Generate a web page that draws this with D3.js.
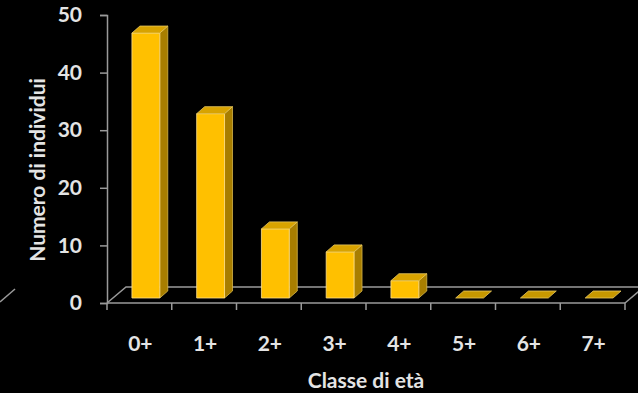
<!DOCTYPE html>
<html>
<head>
    <script src="https://cdnjs.cloudflare.com/ajax/libs/d3/7.8.5/d3.min.js"></script>
    <style>
        body { margin: 0; background: black; }
        svg text { fill: #e4e4e4; font-family: Lato, sans-serif; font-weight: bold; }
    </style>
</head>
<body>
<script>
    var categories = ["0+", "1+", "2+", "3+", "4+", "5+", "6+", "7+"];
    var values = [46, 32, 12, 8, 3, 0, 0, 0];
    var yTicks = [0, 10, 20, 30, 40, 50];

    var width = 638, height = 393;
    var lineColor = "#9a9a9a";
    // floor depth and bar depth (3D offsets)
    var floorDx = 19, floorDy = -16;
    var barShiftY = -5, barDx = 8, barDy = -7;

    var svg = d3.select("body").append("svg")
        .attr("width", width).attr("height", height);

    var x = d3.scaleBand().domain(categories).range([107, 625]);
    var y = d3.scaleLinear().domain([0, 50]).range([303, 15]);

    // floor edges
    var y0 = y(0);
    svg.append("path")
        .attr("d", "M" + x.range()[0] + "," + y0 + "L" + (x.range()[0] + floorDx) + "," + (y0 + floorDy) +
            "L" + width + "," + (y0 + floorDy))
        .attr("fill", "none").attr("stroke", lineColor).attr("stroke-width", 1.5);
    svg.append("path")
        .attr("d", "M" + x.range()[1] + "," + y0 + "L" + (x.range()[1] + floorDx) + "," + (y0 + floorDy))
        .attr("stroke", lineColor).attr("stroke-width", 1.5);
    // fragment at left edge
    svg.append("path")
        .attr("d", "M0," + (y0 - 1) + "L" + 15 + "," + (y0 + floorDy + 2))
        .attr("stroke", lineColor).attr("stroke-width", 1.5);

    // y axis
    var yAxis = svg.append("g")
        .attr("transform", "translate(107,0)")
        .call(d3.axisLeft(y).tickValues(yTicks).tickSize(7).tickPadding(18));
    yAxis.select(".domain").attr("stroke", lineColor).attr("stroke-width", 1.5);
    yAxis.selectAll(".tick line").attr("stroke", lineColor).attr("stroke-width", 1.5);
    yAxis.selectAll(".tick text").style("font-size", "21px").attr("fill", "#e4e4e4");

    // x axis
    svg.append("line")
        .attr("x1", x.range()[0]).attr("x2", x.range()[1])
        .attr("y1", y0).attr("y2", y0)
        .attr("stroke", lineColor).attr("stroke-width", 1.5);
    var bounds = categories.map(function(c) { return x(c); }).concat([x.range()[1]]);
    svg.selectAll(".xtick").data(bounds).enter().append("line")
        .attr("x1", function(d) { return d; }).attr("x2", function(d) { return d; })
        .attr("y1", y0).attr("y2", y0 + 7)
        .attr("stroke", lineColor).attr("stroke-width", 1.5);
    svg.selectAll(".xlabel").data(categories).enter().append("text")
        .attr("x", function(d) { return x(d) + x.bandwidth() / 2 + 1; })
        .attr("y", 351)
        .attr("text-anchor", "middle")
        .style("font-size", "21px")
        .text(function(d) { return d; });

    // bars
    var bw = x.bandwidth() * 0.43;
    var bars = svg.selectAll(".bar").data(values).enter().append("g");
    bars.each(function(v, i) {
        var g = d3.select(this);
        var x0 = x(categories[i]) + x.bandwidth() * 0.385;
        var x1 = x0 + bw;
        var base = y(0) + barShiftY;
        var top = y(v) + barShiftY;
        var pts = function(a) { return a.map(function(p) { return p.join(","); }).join(" "); };
        if (v > 0) {
            g.append("polygon")
                .attr("points", pts([[x1, top], [x1 + barDx, top + barDy], [x1 + barDx, base + barDy], [x1, base]]))
                .attr("fill", "#a87e00").attr("stroke", "#d8b84a").attr("stroke-width", 0.8);
            g.append("polygon")
                .attr("points", pts([[x0, base], [x1, base], [x1, top], [x0, top]]))
                .attr("fill", "#ffc000").attr("stroke", "#ffe08a").attr("stroke-width", 0.8);
        }
        g.append("polygon")
            .attr("points", pts([[x0, top], [x1, top], [x1 + barDx, top + barDy], [x0 + barDx, top + barDy]]))
            .attr("fill", v > 0 ? "#d8a300" : "#c79800").attr("stroke", "#e8c860").attr("stroke-width", 0.8);
    });

    // axis titles
    svg.append("text")
        .attr("transform", "translate(45,170) rotate(-90)")
        .attr("text-anchor", "middle")
        .style("font-size", "21px")
        .text("Numero di individui");
    svg.append("text")
        .attr("x", 366).attr("y", 388)
        .attr("text-anchor", "middle")
        .style("font-size", "21px")
        .text("Classe di età");
</script>
</body>
</html>
